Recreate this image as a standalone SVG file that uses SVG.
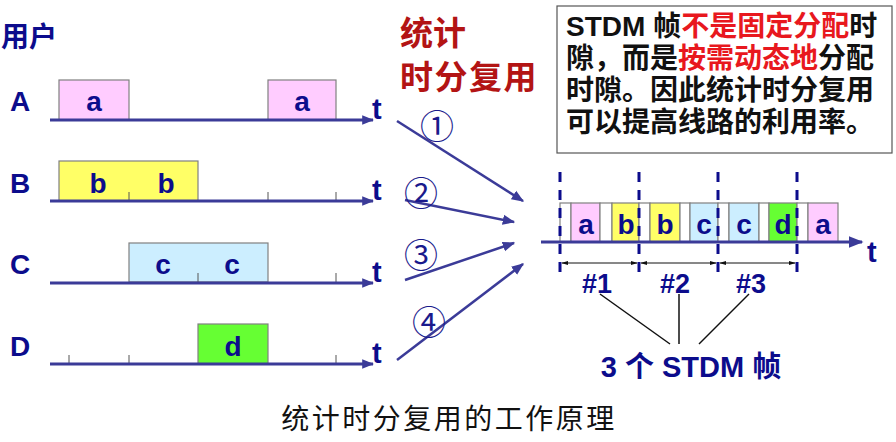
<svg xmlns="http://www.w3.org/2000/svg" width="896" height="442" viewBox="0 0 896 442">
<defs>
<marker id="ah" viewBox="0 0 10 10" refX="9" refY="5" markerWidth="4" markerHeight="4" orient="auto"><path d="M0,1 L10,5 L0,9 Z" fill="#3b3b98"/></marker>
<marker id="ah2" viewBox="0 0 10 10" refX="9" refY="5" markerWidth="5" markerHeight="5" orient="auto"><path d="M0,1 L10,5 L0,9 Z" fill="#3b3b98"/></marker>
<marker id="dk" viewBox="0 0 10 10" refX="9" refY="5" markerWidth="7" markerHeight="7" orient="auto-start-reverse"><path d="M0,2 L10,5 L0,8 Z" fill="#111"/></marker>
</defs>
<style>
.lbl{font-family:"Liberation Sans",Arial,sans-serif;font-weight:bold;fill:#0c0c8c}
.cj{font-family:"Noto Sans CJK SC",sans-serif}
.ax{stroke:#3b3b98;stroke-width:3;fill:none}
.tk{stroke:#555;stroke-width:1}
.box{stroke:#808080;stroke-width:1.2}
.pk{fill:#ffccff}.yl{fill:#ffff66}.lb{fill:#cceeff}.gr{fill:#66ff33}.wh{fill:#fff}
.cell{font-family:"Liberation Sans",Arial,sans-serif;font-weight:bold;font-size:28px;fill:#0c0c8c;text-anchor:middle}
.dash{stroke:#0c0c8c;stroke-width:3;stroke-dasharray:10 8}
.ln{stroke:#3b3b98;stroke-width:2.5;fill:none}
.circ{font-family:"Noto Sans CJK SC",sans-serif;font-size:34px;fill:#1a1a8c;text-anchor:middle;dominant-baseline:central}
.red{fill:#e8181e}
</style>
<rect width="896" height="442" fill="#fff"/>

<text class="cj" x="1" y="47" font-size="28" font-weight="bold" fill="#0c0c8c">用户</text>

<g id="userA">
<rect class="box pk" x="59" y="80" width="70" height="40"/>
<rect class="box pk" x="268" y="80" width="68" height="40"/>
<text class="cell" x="94" y="111">a</text>
<text class="cell" x="302" y="111">a</text>
<line class="ax" x1="50" y1="120" x2="373" y2="120" marker-end="url(#ah)"/>
<text class="lbl" x="10" y="111" font-size="28">A</text>
<text class="lbl" x="372" y="119" font-size="29">t</text>
</g>

<g id="userB">
<rect class="box yl" x="59" y="161" width="139" height="40"/>
<line class="tk" x1="129" y1="192" x2="129" y2="201"/>
<line class="tk" x1="268" y1="192" x2="268" y2="201"/>
<line class="tk" x1="336" y1="192" x2="336" y2="201"/>
<text class="cell" x="98" y="193">b</text>
<text class="cell" x="166" y="193">b</text>
<line class="ax" x1="50" y1="201" x2="373" y2="201" marker-end="url(#ah)"/>
<text class="lbl" x="10" y="193" font-size="28">B</text>
<text class="lbl" x="372" y="200" font-size="29">t</text>
</g>

<g id="userC">
<rect class="box lb" x="129" y="243" width="139" height="39"/>
<line class="tk" x1="198" y1="273" x2="198" y2="282"/>
<line class="tk" x1="336" y1="273" x2="336" y2="282"/>
<text class="cell" x="163" y="274">c</text>
<text class="cell" x="232" y="274">c</text>
<line class="ax" x1="50" y1="283" x2="373" y2="283" marker-end="url(#ah)"/>
<text class="lbl" x="10" y="274" font-size="28">C</text>
<text class="lbl" x="372" y="282" font-size="29">t</text>
</g>

<g id="userD">
<rect class="box gr" x="198" y="324" width="70" height="40"/>
<line class="tk" x1="69" y1="355" x2="69" y2="364"/>
<line class="tk" x1="129" y1="355" x2="129" y2="364"/>
<line class="tk" x1="336" y1="355" x2="336" y2="364"/>
<text class="cell" x="233" y="356">d</text>
<line class="ax" x1="50" y1="364" x2="373" y2="364" marker-end="url(#ah)"/>
<text class="lbl" x="10" y="356" font-size="28">D</text>
<text class="lbl" x="372" y="363" font-size="29">t</text>
</g>

<g id="title">
<text class="cj" x="400" y="45" font-size="33" font-weight="bold" fill="#b31414">统计<tspan x="400" y="89" letter-spacing="1.5">时分复用</tspan></text>
</g>

<g id="note">
<rect x="557" y="6" width="335" height="147" fill="#fff" stroke="#555" stroke-width="1.2"/>
<text class="cj" x="566" y="36" font-size="28" font-weight="bold" fill="#111"><tspan font-family="Liberation Sans,Arial,sans-serif">STDM </tspan>帧<tspan class="red">不是固定分配</tspan>时<tspan x="566" y="68">隙，而是</tspan><tspan class="red">按需动态地</tspan>分配<tspan x="566" y="100">时隙。因此统计时分复用</tspan><tspan x="566" y="132">可以提高线路的利用率。</tspan></text>
</g>

<g id="connectors">
<line class="ln" x1="397" y1="121" x2="523" y2="201" marker-end="url(#ah2)"/>
<line class="ln" x1="405" y1="200" x2="514" y2="222" marker-end="url(#ah2)"/>
<line class="ln" x1="405" y1="280" x2="514" y2="243" marker-end="url(#ah2)"/>
<line class="ln" x1="397" y1="360" x2="523" y2="264" marker-end="url(#ah2)"/>
<text class="circ" x="437" y="124">①</text>
<text class="circ" x="421" y="191">②</text>
<text class="circ" x="421" y="253">③</text>
<text class="circ" x="429" y="320">④</text>
<line x1="600" y1="294" x2="670" y2="344" stroke="#111" stroke-width="1.5"/>
<line x1="679" y1="294" x2="679" y2="344" stroke="#111" stroke-width="1.5"/>
<line x1="749" y1="294" x2="699" y2="344" stroke="#111" stroke-width="1.5"/>
</g>

<g id="stdm">
<rect class="box wh" x="560" y="203" width="11" height="39"/>
<rect class="box pk" x="571" y="203" width="29" height="39"/>
<rect class="box wh" x="600" y="203" width="12" height="39"/>
<rect class="box yl" x="612" y="203" width="27" height="39"/>
<rect class="box wh" x="639" y="203" width="11" height="39"/>
<rect class="box yl" x="650" y="203" width="30" height="39"/>
<rect class="box wh" x="680" y="203" width="10" height="39"/>
<rect class="box lb" x="690" y="203" width="28" height="39"/>
<rect class="box wh" x="718" y="203" width="11" height="39"/>
<rect class="box lb" x="729" y="203" width="30" height="39"/>
<rect class="box wh" x="759" y="203" width="10" height="39"/>
<rect class="box gr" x="769" y="203" width="28" height="39"/>
<rect class="box wh" x="797" y="203" width="11" height="39"/>
<rect class="box pk" x="808" y="203" width="30" height="39"/>
<text class="cell" x="586" y="234">a</text>
<text class="cell" x="626" y="234">b</text>
<text class="cell" x="665" y="234">b</text>
<text class="cell" x="704" y="234">c</text>
<text class="cell" x="744" y="234">c</text>
<text class="cell" x="783" y="234">d</text>
<text class="cell" x="823" y="234">a</text>
<line class="ax" x1="541" y1="242" x2="862" y2="242" marker-end="url(#ah2)"/>
<text class="lbl" x="867" y="262" font-size="29">t</text>
<line class="dash" x1="560" y1="172" x2="560" y2="272"/>
<line class="dash" x1="639" y1="172" x2="639" y2="272"/>
<line class="dash" x1="718" y1="172" x2="718" y2="272"/>
<line class="dash" x1="797" y1="172" x2="797" y2="272"/>
<line x1="562" y1="263" x2="637" y2="263" stroke="#111" stroke-width="1" marker-start="url(#dk)" marker-end="url(#dk)"/>
<line x1="641" y1="263" x2="716" y2="263" stroke="#111" stroke-width="1" marker-start="url(#dk)" marker-end="url(#dk)"/>
<line x1="720" y1="263" x2="795" y2="263" stroke="#111" stroke-width="1" marker-start="url(#dk)" marker-end="url(#dk)"/>
<text class="lbl" x="597" y="293" font-size="27" text-anchor="middle">#1</text>
<text class="lbl" x="675" y="293" font-size="27" text-anchor="middle">#2</text>
<text class="lbl" x="751" y="293" font-size="27" text-anchor="middle">#3</text>
<text class="lbl" x="691" y="377" font-size="29" text-anchor="middle">3 <tspan font-family="Noto Sans CJK SC,sans-serif">个</tspan> STDM <tspan font-family="Noto Sans CJK SC,sans-serif">帧</tspan></text>
</g>

<text class="cj" x="449" y="429" font-size="28" fill="#111" text-anchor="middle" letter-spacing="2.5">统计时分复用的工作原理</text>
</svg>
